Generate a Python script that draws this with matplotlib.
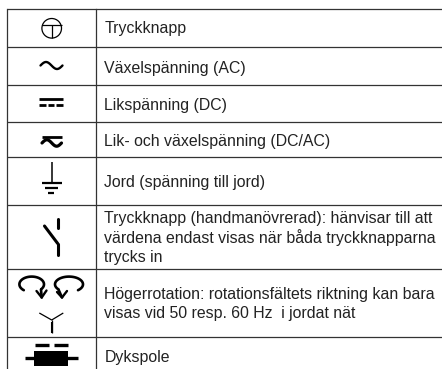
import numpy as np
import matplotlib
matplotlib.use("Agg")
import matplotlib.pyplot as plt
from matplotlib.patches import Circle, Rectangle

row_lines = [9, 47, 84.5, 122, 156.5, 205, 269, 337]
row_texts = [
    ["Tryckknapp"],
    ["Växelspänning (AC)"],
    ["Likspänning (DC)"],
    ["Lik- och växelspänning (DC/AC)"],
    ["Jord (spänning till jord)"],
    ["Tryckknapp (handmanövrerad): hänvisar till att",
     "värdena endast visas när båda tryckknapparna",
     "trycks in"],
    ["Högerrotation: rotationsfältets riktning kan bara",
     "visas vid 50 resp. 60 Hz  i jordat nät"],
    ["Dykspole"],
]
# baseline of the first line in each row
text_base = [33.5, 72.5, 110, 146, 187, 223, 298.5, 361.7]
line_step = 19.6

fig = plt.figure(figsize=(4.42, 3.69), dpi=100)
ax = fig.add_axes([0, 0, 1, 1])
ax.set_xlim(0, 442)
ax.set_ylim(369, 0)
ax.axis("off")

line_col = "#333333"

# table grid
for y in row_lines:
    ax.plot([6.5, 442], [y, y], color=line_col, lw=0.9, solid_capstyle="butt")
ax.plot([6.5, 6.5], [9, 369], color=line_col, lw=0.9)
ax.plot([96, 96], [9, 369], color=line_col, lw=0.9)

for lines, y in zip(row_texts, text_base):
    for i, s in enumerate(lines):
        ax.text(104.3, y + i * line_step, s, family="Liberation Sans", fontsize=11.48,
                va="baseline", ha="left", color="#222222")

def seg(x, y, lw=1.0, cap="butt"):
    ax.plot(x, y, color="black", lw=lw, solid_capstyle=cap, solid_joinstyle="round")

# push button
ax.add_patch(Circle((51.7, 28.3), 9.8, fill=False, ec="black", lw=0.9))
seg([42, 61.5], [25.3, 25.3], 0.9)
seg([51.7, 51.7], [25.3, 38], 0.9)

# AC
t = np.linspace(0, 2 * np.pi, 60)
seg(40.5 + 22 * t / (2 * np.pi), 65.5 - 3.5 * np.sin(t), 1.7, "round")

# DC
seg([39, 63], [98.7, 98.7], 2.0)
for x0, x1 in [(39, 46), (47.7, 54.3), (56, 63)]:
    seg([x0, x1], [105, 105], 2.0)

# DC/AC
seg([41.7, 61.7], [136.5, 136.5], 2.0)
seg(42 + 19.5 * t / (2 * np.pi), 143 - 3.2 * np.sin(t), 2.3, "round")

# earth
seg([51.7, 51.7], [162, 183], 1.1)
seg([41.7, 61.7], [183, 183], 1.6)
seg([45, 58.3], [187.5, 187.5], 1.6)
seg([48.3, 54.3], [193.3, 193.3], 1.6)

# manual push button
seg([57.7, 57.7], [219, 228], 2.2, "round")
seg([44.5, 57.7], [226, 243.5], 2.2, "round")
seg([57.7, 57.7], [243.5, 254.5], 2.2, "round")

# rotation arrows
a = np.radians(np.linspace(130, 400, 50))
seg(31.7 + 12.3 * np.cos(a), 284.3 + 7.7 * np.sin(a), 1.9, "round")
seg([41, 41.7], [289.5, 297.5], 1.9, "round")
seg([36.5, 41.7, 46.5], [291, 297.5, 290.5], 1.7, "round")
b = np.radians(np.linspace(50, -220, 50))
seg(69 + 14 * np.cos(b), 284.3 + 7.7 * np.sin(b), 1.9, "round")
seg([58.5, 62], [289.5, 297.5], 1.9, "round")
seg([57, 62, 67], [292, 297.5, 291], 1.7, "round")

# star
seg([39.3, 51.7, 63.3], [313, 320, 313], 0.9)
seg([51.7, 51.7], [320, 333], 0.9)
seg([51.7, 51.7], [322, 333], 1.5)

# plunger coil
seg([35, 49], [345, 345], 2.4)
seg([54, 68], [345, 345], 2.4)
ax.add_patch(Rectangle((34, 350.7), 34, 15.3, color="black", lw=0))
seg([25, 78], [358, 358], 2.4)

fig.savefig("out.png", dpi=100)
